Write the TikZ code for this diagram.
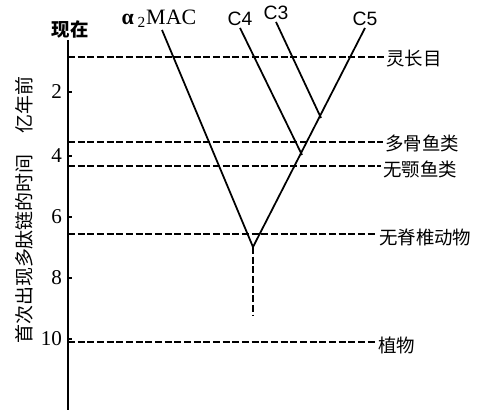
\documentclass[tikz,border=0pt]{standalone}
\usepackage{fontspec}
\setmainfont{Liberation Serif}
\newfontfamily\cjk{Noto Sans CJK SC}
\newfontfamily\gsans{Liberation Sans}
\usetikzlibrary{positioning}

\begin{document}
\begin{tikzpicture}[x=0.02cm, y=-0.02cm,
  era/.style={anchor=west, inner sep=1pt, font=\cjk\fontsize{10.5}{12}\selectfont},
  gene/.style={inner sep=1pt, font=\gsans\fontsize{11}{12}\selectfont},
  num/.style={anchor=east, inner sep=1pt, font=\fontsize{12}{12}\selectfont},
  dline/.style={dash pattern=on 4pt off 1.5pt, line width=0.7pt},
  branch/.style={line width=1pt}
]
\useasboundingbox (0,0) rectangle (486,411);

% time axis
\coordinate (axtop) at (68,40);
\coordinate (axbot) at (68,410);
\draw[line width=1pt] (axtop) -- (axbot);
\node[inner sep=1pt, font=\cjk\bfseries\fontsize{10.5}{12}\selectfont] (now) at (70,30) {现在};
\foreach \t/\yy in {2/92, 4/156, 6/217, 8/278, 10/339}{
  \coordinate (tk\t) at (68,\yy);
  \draw[line width=0.8pt] (tk\t) -- ++(4,0);
  \node[num] (n\t) at (64,\yy) {\t};
}
\node[rotate=90, inner sep=1pt, font=\cjk\fontsize{10.8}{12}\selectfont] (ytitle) at (24,210)
  {首次出现多肽链的时间\hspace{12pt}亿年前};

% geological markers
\node[era] (ling)  at (384,59)  {灵长目};
\node[era] (duogu) at (383,143) {多骨鱼类};
\node[era] (wue)   at (381,169) {无颚鱼类};
\node[era] (wuji)  at (377,237) {无脊椎动物};
\node[era] (zhi)   at (376,345) {植物};

\coordinate (e1) at (68,57);
\coordinate (e2) at (68,142);
\coordinate (e3) at (68,166);
\coordinate (e4) at (68,234);
\coordinate (e5) at (68,342);
\foreach \a/\b in {e1/ling, e2/duogu, e3/wue, e4/wuji, e5/zhi}
  \draw[dline] (\a) -- (\a -| \b.west);

% genes
\node[inner sep=1pt, font=\fontsize{12.5}{12}\selectfont] (amac) at (159,19) {{\bfseries α}\,\textsubscript{2}MAC};
\node[gene] (c4) at (240,19) {C4};
\node[gene] (c3) at (276,13) {C3};
\node[gene] (c5) at (365,19) {C5};

\coordinate (root) at (253,247);
\coordinate (j4) at (302,155);
\coordinate (j3) at (321,118);
\coordinate (stem) at (253,315);

\draw[branch] (amac.south -| 162,0) -- (root);
\draw[branch] (c5.south) -- (root);
\draw[branch] (c4.south) -- (j4);
\draw[branch] (c3.south) -- (j3);
\draw[dline] (root) -- (stem);
\end{tikzpicture}
\end{document}
